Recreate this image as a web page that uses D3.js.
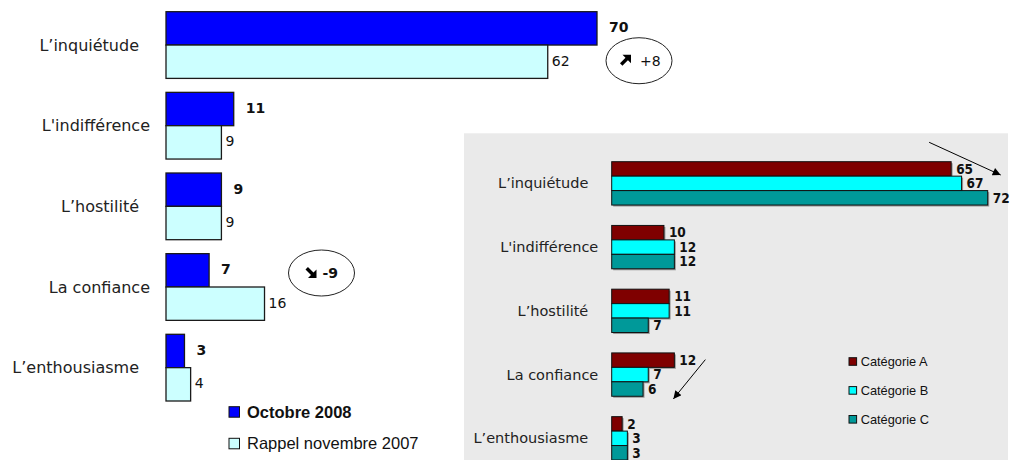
<!DOCTYPE html>
<html><head><meta charset="utf-8">
<script src="https://cdn.jsdelivr.net/npm/d3@7"></script>
<style>
html,body{margin:0;padding:0;background:#fff;}
svg{display:block;}
</style></head>
<body>
<svg id="c" width="1013" height="460"></svg>
<script>
const categories = ["L’inquiétude", "L'indifférence", "L’hostilité", "La confiance", "L’enthousiasme"];
const octobre2008 = [70, 11, 9, 7, 3];
const novembre2007 = [62, 9, 9, 16, 4];
const leftSeries = ["Octobre 2008", "Rappel novembre 2007"];
const leftColors = ["#0000FF", "#CCFFFF"];

const categorieA = [65, 10, 11, 12, 2];
const categorieB = [67, 12, 11, 7, 3];
const categorieC = [72, 12, 7, 6, 3];
const rightSeries = ["Catégorie A", "Catégorie B", "Catégorie C"];
const rightColors = ["#7F0000", "#00FFFF", "#009999"];

const annotated = ["L’inquiétude", "La confiance"];

const svg = d3.select("#c");
const catFont = "'DejaVu Sans', Verdana, sans-serif";
const arial = "'Liberation Sans', Arial, sans-serif";

/* ---------------- Left chart ---------------- */
const leftData = categories.map((c, i) => ({cat: c, vals: [octobre2008[i], novembre2007[i]]}));
const xL = d3.scaleLinear().domain([0, 70]).range([166, 597]);
const yL = d3.scaleBand().domain(categories).range([11.7, 401]).paddingInner(0.173).paddingOuter(0);
const ySubL = d3.scaleBand().domain(leftSeries).range([0, yL.bandwidth()]);

const gL = svg.append("g");
const grpL = gL.selectAll("g.grp").data(leftData).join("g")
  .attr("transform", d => `translate(0,${yL(d.cat)})`);

grpL.selectAll("rect").data(d => d.vals.map((v, j) => ({v, s: leftSeries[j], j}))).join("rect")
  .attr("x", xL(0))
  .attr("y", d => ySubL(d.s))
  .attr("width", d => xL(d.v) - xL(0))
  .attr("height", ySubL.bandwidth())
  .attr("fill", d => leftColors[d.j])
  .attr("stroke", "#1a1a1a").attr("stroke-width", 1.3);

grpL.selectAll("text.val").data(d => d.vals.map((v, j) => ({v, s: leftSeries[j], j}))).join("text")
  .attr("class", "val")
  .attr("x", d => xL(d.v) + (d.j === 0 ? 12 : 4))
  .attr("y", d => ySubL(d.s) + ySubL.bandwidth() / 2 - 1)
  .attr("dy", "0.35em")
  .attr("font-family", catFont)
  .attr("font-size", 14)
  .attr("font-weight", d => d.j === 0 ? "bold" : "normal")
  .attr("fill", "#111")
  .text(d => d.v);

gL.selectAll("text.cat").data(categories).join("text")
  .attr("class", "cat")
  .attr("x", d => d.includes("’") ? 139 : 150)
  .attr("y", d => yL(d) + yL.bandwidth() / 2)
  .attr("dy", "0.35em")
  .attr("text-anchor", "end")
  .attr("font-family", catFont)
  .attr("font-size", 16)
  .attr("fill", "#222")
  .text(d => d);

// change annotations
function arrowPath(g, up) {
  // bold arrow in an 11x11 box (NE), mirrored vertically for SE
  const head = "M2.5,0 L11,0 L11,8.5 Z";
  const shaft = "M0,8.6 L6,2.6 L8.4,5 L2.4,11 Z";
  const t = up ? null : "translate(0,11) scale(1,-1)";
  const a = g.append("g").attr("transform", t);
  a.append("path").attr("d", head).attr("fill", "#000");
  a.append("path").attr("d", shaft).attr("fill", "#000");
}
annotated.forEach(cat => {
  const i = categories.indexOf(cat);
  const diff = octobre2008[i] - novembre2007[i];
  const maxV = Math.max(octobre2008[i], novembre2007[i]);
  const cx = xL(maxV) + 42 + (diff < 0 ? 15 : 0);
  const cy = diff > 0 ? yL(cat) + ySubL.bandwidth() * 1.5 - 1 : yL(cat) + ySubL.bandwidth() - 14;
  const g = gL.append("g").attr("transform", `translate(${cx},${cy})`);
  g.append("ellipse").attr("rx", 33).attr("ry", 23).attr("fill", "#fff").attr("stroke", "#222").attr("stroke-width", 1);
  const a = g.append("g").attr("transform", diff > 0 ? `translate(-19,-6)` : `translate(-16,-6)`);
  arrowPath(a, diff > 0);
  g.append("text").attr("x", 1).attr("y", 0).attr("dy", "0.35em")
    .attr("font-family", catFont).attr("font-size", 14)
    .attr("font-weight", diff > 0 ? "normal" : "bold")
    .attr("fill", "#111")
    .text((diff > 0 ? "+" : "-") + Math.abs(diff));
});

// left legend
const legL = gL.append("g");
leftSeries.forEach((s, j) => {
  const y = 406.7 + j * 31.6;
  legL.append("rect").attr("x", 229).attr("y", y).attr("width", 10.5).attr("height", 10.5)
    .attr("fill", leftColors[j]).attr("stroke", "#111").attr("stroke-width", 1);
  legL.append("text").attr("x", 247).attr("y", y + 5.3).attr("dy", "0.35em")
    .attr("font-family", arial).attr("font-size", 16.5)
    .attr("font-weight", j === 0 ? "bold" : "normal").attr("fill", "#111")
    .text(s);
});

/* ---------------- Right chart ---------------- */
svg.append("rect").attr("x", 464).attr("y", 133.3).attr("width", 544).attr("height", 327).attr("fill", "#EAEAEA");

const rightData = categories.map((c, i) => ({cat: c, vals: [categorieA[i], categorieB[i], categorieC[i]]}));
const xR = d3.scaleLinear().domain([0, 72]).range([611.7, 987.7]);
const yR = d3.scaleBand().domain(categories).range([161.7, 460]).paddingInner(0.32).paddingOuter(0);
const ySubR = d3.scaleBand().domain(rightSeries).range([0, yR.bandwidth()]);

const gR = svg.append("g");
const grpR = gR.selectAll("g.grp").data(rightData).join("g")
  .attr("transform", d => `translate(0,${yR(d.cat)})`);

const rItems = d => d.vals.map((v, j) => ({v, s: rightSeries[j], j}));
grpR.selectAll("rect.sh").data(rItems).join("rect").attr("class", "sh")
  .attr("x", xR(0) + 1.5)
  .attr("y", d => ySubR(d.s) + 1.5)
  .attr("width", d => xR(d.v) - xR(0))
  .attr("height", ySubR.bandwidth())
  .attr("fill", "#9a9a9a");
grpR.selectAll("rect.bar").data(rItems).join("rect").attr("class", "bar")
  .attr("x", xR(0))
  .attr("y", d => ySubR(d.s))
  .attr("width", d => xR(d.v) - xR(0))
  .attr("height", ySubR.bandwidth())
  .attr("fill", d => rightColors[d.j])
  .attr("stroke", "#111").attr("stroke-width", 1);

grpR.selectAll("text.val").data(rItems).join("text").attr("class", "val")
  .attr("x", d => xR(d.v) + 5)
  .attr("y", d => ySubR(d.s) + ySubR.bandwidth() / 2)
  .attr("dy", "0.35em")
  .attr("font-family", "'DejaVu Sans Condensed', 'DejaVu Sans', sans-serif")
  .attr("font-size", 13.5)
  .attr("font-weight", "bold")
  .attr("fill", "#111")
  .text(d => d.v);

gR.selectAll("text.cat").data(categories).join("text").attr("class", "cat")
  .attr("x", d => d.includes("’") ? 588.3 : 598.3)
  .attr("y", d => yR(d) + yR.bandwidth() / 2)
  .attr("dy", "0.35em")
  .attr("text-anchor", "end")
  .attr("font-family", catFont)
  .attr("font-size", 14.5)
  .attr("fill", "#222")
  .text(d => d);

// arrows
const defs = svg.append("defs");
defs.append("marker").attr("id", "ah").attr("viewBox", "0 0 10 10").attr("refX", 10).attr("refY", 5)
  .attr("markerWidth", 11).attr("markerHeight", 8).attr("markerUnits", "userSpaceOnUse").attr("orient", "auto")
  .append("path").attr("d", "M0,0 L10,5 L0,10 Z").attr("fill", "#000");

const c0 = categories[0], c3 = categories[3];
gR.append("line")
  .attr("x1", xR(categorieA[0]) - 22).attr("y1", yR(c0) - 19.4)
  .attr("x2", xR(categorieC[0]) + 13).attr("y2", yR(c0) + 13.3)
  .attr("stroke", "#000").attr("stroke-width", 1).attr("marker-end", "url(#ah)");
gR.append("line")
  .attr("x1", xR(categorieA[3]) + 31).attr("y1", yR(c3) + 6.7)
  .attr("x2", xR(categorieA[3]) - 1).attr("y2", yR(c3) + 46)
  .attr("stroke", "#000").attr("stroke-width", 1).attr("marker-end", "url(#ah)");

// right legend
rightSeries.forEach((s, j) => {
  const yc = 361.5 + j * 28.9;
  gR.append("rect").attr("x", 849).attr("y", yc - 3.8).attr("width", 7.6).attr("height", 7.6)
    .attr("fill", rightColors[j]).attr("stroke", "#111").attr("stroke-width", 1);
  gR.append("text").attr("x", 860.7).attr("y", yc).attr("dy", "0.35em")
    .attr("font-family", arial).attr("font-size", 12.8).attr("fill", "#111")
    .text(s);
});
</script>
</body></html>
